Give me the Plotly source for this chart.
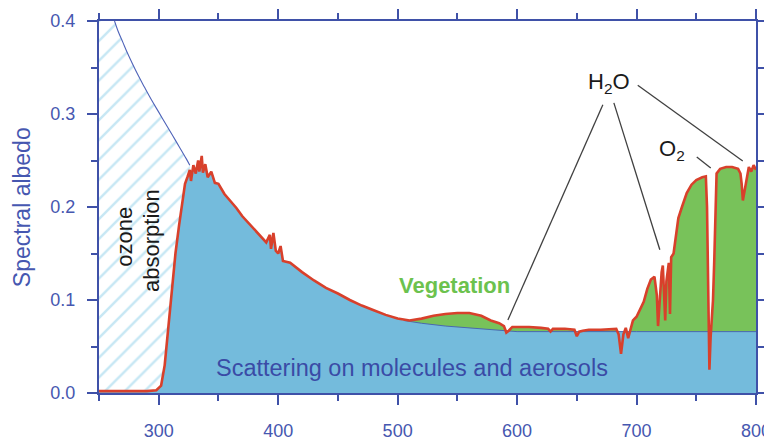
import plotly.graph_objects as go

# ---------------- data ----------------
# observed spectral albedo (red curve)
wl = [250, 290, 298, 302, 305, 308, 311, 314, 317, 320, 322, 324, 326, 327, 329, 331, 333, 334,
      336, 337, 339, 341, 344, 347, 350, 355, 360, 365, 370, 375, 380, 385, 390, 393, 394, 396,
      398, 400, 402, 404, 410, 420, 430, 440, 450, 460, 470, 480, 490, 500, 505, 510, 520, 530,
      540, 550, 560, 570, 578, 585, 589, 591, 593, 596, 600, 610, 620, 626, 628, 630, 640, 648,
      650, 652, 655, 660, 670, 683, 685, 687, 689, 691, 693, 695, 697, 700, 703, 706, 709, 712,
      715, 717, 718, 719, 721, 722, 723, 724, 725, 727, 728, 729, 731, 733, 735, 738, 742, 746,
      750, 755, 758, 759, 760, 761, 762, 763, 764, 765, 766, 767, 770, 775, 780, 785, 787, 788,
      789, 790, 792, 794, 796, 798, 800]
albedo = [0.002, 0.002, 0.003, 0.008, 0.03, 0.07, 0.11, 0.15, 0.18, 0.207, 0.225, 0.232, 0.24,
          0.228, 0.245, 0.236, 0.25, 0.238, 0.255, 0.237, 0.246, 0.232, 0.238, 0.226, 0.225,
          0.214, 0.207, 0.199, 0.19, 0.183, 0.176, 0.168, 0.162, 0.17, 0.155, 0.172, 0.153, 0.15,
          0.158, 0.142, 0.14, 0.13, 0.121, 0.113, 0.107, 0.1, 0.094, 0.089, 0.084, 0.08, 0.079,
          0.078, 0.08, 0.083, 0.085, 0.086, 0.086, 0.083, 0.078, 0.075, 0.072, 0.065, 0.067,
          0.071, 0.071, 0.071, 0.07, 0.069, 0.066, 0.069, 0.069, 0.068, 0.061, 0.066, 0.067,
          0.068, 0.068, 0.069, 0.063, 0.042, 0.063, 0.07, 0.059, 0.068, 0.078, 0.082, 0.09,
          0.098, 0.112, 0.122, 0.125, 0.105, 0.072, 0.095, 0.13, 0.137, 0.095, 0.078, 0.12,
          0.14, 0.085, 0.146, 0.15, 0.17, 0.188, 0.2, 0.215, 0.224, 0.229, 0.232, 0.233, 0.2,
          0.1, 0.025, 0.06, 0.08, 0.1, 0.14, 0.2, 0.236, 0.241, 0.243, 0.243, 0.241, 0.236,
          0.225, 0.207, 0.215, 0.232, 0.243, 0.238, 0.245, 0.24]

# scattering (molecules + aerosols) background beyond the vegetation onset
scat_wl = [505, 520, 540, 560, 580, 600, 700, 800]
scat_val = [0.078, 0.075, 0.072, 0.070, 0.068, 0.066, 0.066, 0.066]

# albedo without ozone absorption (upper edge of hatched area)
noz_wl = [250, 263, 266, 270, 274, 278, 283, 288, 294, 300, 306, 312, 318, 323, 326]
noz_val = [0.4, 0.4, 0.389, 0.377, 0.365, 0.354, 0.341, 0.329, 0.315, 0.302, 0.289, 0.276,
           0.263, 0.252, 0.245]

# pointer lines for the gas labels: (x0, y0, x1, y1)
h2o_lines = [(671.8, 0.310, 592.3, 0.0785),
             (681.0, 0.312, 719.5, 0.154),
             (701.0, 0.331, 788.9, 0.2495)]
o2_line = (750.4, 0.2538, 762.1, 0.2419)

# ---------------- styling ----------------
AX = "#3f51a8"
RED = "#d8402b"
BLUE_FILL = "#74bbdc"
GREEN = "#78c25a"
HATCH = "#8fd0ea"
FONT = "Liberation Sans, Arial, Helvetica, sans-serif"

fig = go.Figure()

# hatched ozone-absorption region: polygon between no-ozone curve and observed curve
red_pre = [(x, y) for x, y in zip(wl, albedo) if x <= 326]
hx = [250] + noz_wl + [x for x, _ in reversed(red_pre)] + [250]
hy = [0.0] + noz_val + [y for _, y in reversed(red_pre)] + [0.0]
fig.add_trace(go.Scatter(x=hx, y=hy, mode="lines", fill="toself",
                         line=dict(width=0, color=HATCH),
                         fillcolor="rgba(255,255,255,0)",
                         fillpattern=dict(shape="/", fgcolor=HATCH, bgcolor="white",
                                          size=14, solidity=0.18),
                         hoverinfo="skip", showlegend=False))
# thin line for no-ozone curve
fig.add_trace(go.Scatter(x=noz_wl[1:], y=noz_val[1:], mode="lines", line_shape="spline",
                         line=dict(color="#4e62b8", width=1.1),
                         hoverinfo="skip", showlegend=False))

# green vegetation fill (observed albedo beyond onset)
gx = [x for x in wl if x >= 505]
gy = [y for x, y in zip(wl, albedo) if x >= 505]
fig.add_trace(go.Scatter(x=gx, y=gy, mode="lines", fill="tozeroy",
                         line=dict(width=0), fillcolor=GREEN,
                         hoverinfo="skip", showlegend=False))

# blue scattering fill
bx = [x for x in wl if x < 505] + scat_wl
by = [y for x, y in zip(wl, albedo) if x < 505] + scat_val
fig.add_trace(go.Scatter(x=bx, y=by, mode="lines", fill="tozeroy",
                         line=dict(width=0), fillcolor=BLUE_FILL,
                         hoverinfo="skip", showlegend=False))
fig.add_trace(go.Scatter(x=scat_wl, y=scat_val, mode="lines",
                         line=dict(color="#4a68b0", width=1),
                         hoverinfo="skip", showlegend=False))

# observed albedo line
fig.add_trace(go.Scatter(x=wl, y=albedo, mode="lines",
                         line=dict(color=RED, width=2.6),
                         hoverinfo="skip", showlegend=False))

shapes = []
for (x0, y0, x1, y1) in h2o_lines + [o2_line]:
    shapes.append(dict(type="line", xref="x", yref="y", x0=x0, y0=y0, x1=x1, y1=y1,
                       line=dict(color="#404040", width=1.3)))

annotations = [
    dict(text="ozone", x=271.8, y=0.168, textangle=-90, showarrow=False,
         font=dict(size=22, color="#1a1a1a", family=FONT)),
    dict(text="absorption", x=293.5, y=0.1645, textangle=-90, showarrow=False,
         font=dict(size=22, color="#1a1a1a", family=FONT)),
    dict(text="Scattering on molecules and aerosols", x=512.3, y=0.027, showarrow=False,
         font=dict(size=23.5, color="#3a4ba6", family=FONT)),
    dict(text="<b>Vegetation</b>", x=547.5, y=0.116, showarrow=False,
         font=dict(size=22, color="#6cc24e", family=FONT)),
    dict(text="H<sub>2</sub>O", x=676.8, y=0.333, showarrow=False,
         font=dict(size=22, color="#1a1a1a", family=FONT)),
    dict(text="O<sub>2</sub>", x=729.5, y=0.261, showarrow=False,
         font=dict(size=22, color="#1a1a1a", family=FONT)),
    dict(text="Spectral albedo", xref="paper", yref="paper", x=-0.117, y=0.5,
         textangle=-90, showarrow=False, xanchor="center", yanchor="middle",
         font=dict(size=23, color="#4657b0", family=FONT)),
]

axis_common = dict(showline=True, linecolor=AX, linewidth=2, mirror="ticks",
                   ticks="outside", ticklen=10, tickwidth=2, tickcolor=AX,
                   showgrid=False, zeroline=False, automargin=False,
                   tickfont=dict(size=18, color="#4657b0", family=FONT))

# the page body adds an 8 px offset, so the figure is 8 px smaller than the window
fig.update_layout(
    width=764, height=433,
    margin=dict(l=91, r=16, t=13, b=48, autoexpand=False),
    paper_bgcolor="white", plot_bgcolor="white",
    font=dict(family=FONT),
    xaxis=dict(range=[250, 800], tickvals=[300, 400, 500, 600, 700, 800],
               minor=dict(dtick=50, tick0=250, ticklen=6, tickwidth=2, tickcolor=AX,
                          ticks="outside"),
               ticklabelstandoff=10, **axis_common),
    yaxis=dict(range=[0, 0.4], tickvals=[0, 0.1, 0.2, 0.3, 0.4], tickformat=".1f",
               minor=dict(dtick=0.05, tick0=0, ticklen=6, tickwidth=2, tickcolor=AX,
                          ticks="outside"),
               ticklabelstandoff=8, **axis_common),
    shapes=shapes,
    annotations=annotations,
    showlegend=False,
)

fig.write_html("out.html")
